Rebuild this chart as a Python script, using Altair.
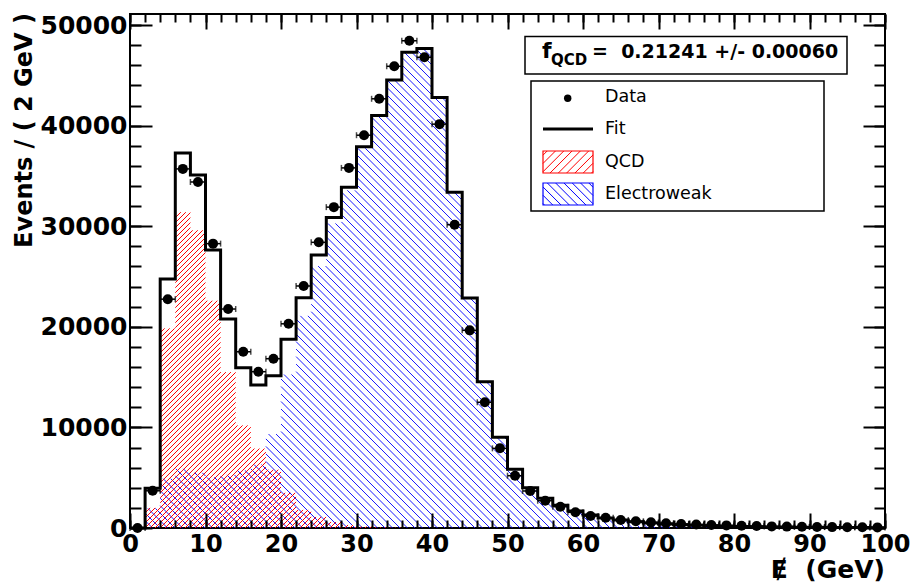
import altair as alt
import numpy as np
import pandas as pd

# ---------------- values ----------------
bin_edges = list(range(0, 102, 2))          # 2 GeV bins, 0..100
bin_centers = list(range(1, 100, 2))

data_counts = [0, 3700, 22750, 35700, 34400, 28270, 21770, 17520, 15540, 16830,
               20300, 24060, 28400, 31900, 35800, 39050, 42670, 45900, 48440, 46800,
               40150, 30150, 19650, 12500, 7920, 5200, 3680, 2710, 2120, 1560,
               1190, 1020, 800, 670, 560, 480, 400, 350, 300, 260,
               220, 190, 160, 140, 120, 100, 90, 80, 70, 60]

fit_counts = [0, 3950, 24750, 37280, 35090, 27630, 20780, 15930, 14210, 15140,
              18760, 22890, 27140, 30880, 33870, 37900, 41020, 44530, 47290, 47660,
              42810, 33370, 22860, 14540, 9010, 5840, 4010, 2950, 2250, 1700,
              1300, 1000, 790, 630, 500, 400, 330, 270, 220, 180,
              150, 125, 105, 90, 75, 65, 55, 45, 40, 35]

qcd_counts = [0, 2000, 19850, 31400, 29600, 22600, 15500, 10200, 7900, 5800,
              3500, 1800, 1100, 600, 300, 150, 80, 40, 20, 0,
              0, 0, 0, 0, 0, 0, 0, 0, 0, 0,
              0, 0, 0, 0, 0, 0, 0, 0, 0, 0,
              0, 0, 0, 0, 0, 0, 0, 0, 0, 0]

ewk_counts = [0, 1950, 4900, 5880, 5490, 5030, 5280, 5730, 6310, 9340,
              15260, 21090, 26040, 30280, 33570, 37750, 40940, 44490, 47270, 47660,
              42810, 33370, 22860, 14540, 9010, 5840, 4010, 2950, 2250, 1700,
              1300, 1000, 790, 630, 500, 400, 330, 270, 220, 180,
              150, 125, 105, 90, 75, 65, 55, 45, 40, 35]

x_major = [0, 10, 20, 30, 40, 50, 60, 70, 80, 90, 100]
x_minor = list(range(0, 101, 2))
y_major = [0, 10000, 20000, 30000, 40000, 50000]
y_minor = list(range(0, 51001, 2000))

y_title = "Events / ( 2 GeV )"
x_title = "\u0246\u00a0\u00a0(GeV)"
fqcd_value = "=\u00a0\u00a00.21241 +/- 0.00060"
legend_labels = ["Data", "Fit", "QCD", "Electroweak"]

# ---------------- layout ----------------
W, H = 755, 514
X_MAX, Y_MAX = 100, 51100
FONT = "DejaVu Sans"
sx = W / X_MAX
sy = H / Y_MAX

xs = alt.Scale(domain=[0, X_MAX], nice=False, zero=False)
ys = alt.Scale(domain=[0, Y_MAX], nice=False, zero=False)


def hatch_df(heights, rising, spacing):
    """45-degree hatch lines clipped to a step histogram, returned in data units."""
    x0 = np.array(bin_edges[:-1]) * sx
    x1 = np.array(bin_edges[1:]) * sx
    h = np.array(heights, dtype=float) * sy
    hmax = h.max()
    if rising:
        cs = np.arange(-W - spacing, hmax + spacing, spacing)
    else:
        cs = np.arange(0, W + hmax + spacing, spacing)
    recs = []
    for c in cs:
        cur = None
        segs = []
        for a, b, hh in zip(x0, x1, h):
            if rising:
                lo, hi = max(a, -c), min(b, hh - c)
            else:
                lo, hi = max(a, c - hh), min(b, c)
            if hi - lo > 0.3:
                if cur is not None and abs(lo - cur[1]) < 1e-6:
                    cur[1] = hi
                else:
                    if cur is not None:
                        segs.append(cur)
                    cur = [lo, hi]
        if cur is not None:
            segs.append(cur)
        for lo, hi in segs:
            if rising:
                ylo, yhi = lo + c, hi + c
            else:
                ylo, yhi = c - lo, c - hi
            recs.append({"x": lo / sx, "x2": hi / sx, "y": ylo / sy, "y2": yhi / sy})
    return pd.DataFrame(recs)


def legend_hatch(xa, xb, ya, yb, rising, spacing):
    """hatch lines inside a legend box, screen pixels (y down)."""
    recs = []
    if rising:   # y = c - x
        for c in np.arange(xa + ya + spacing / 2, xb + yb, spacing):
            lo, hi = max(xa, c - yb), min(xb, c - ya)
            if hi - lo > 0.5:
                recs.append({"x": lo, "x2": hi, "y": c - lo, "y2": c - hi})
    else:        # y = x + k
        for k in np.arange(ya - xb + spacing / 2, yb - xa, spacing):
            lo, hi = max(xa, ya - k), min(xb, yb - k)
            if hi - lo > 0.5:
                recs.append({"x": lo, "x2": hi, "y": lo + k, "y2": hi + k})
    return pd.DataFrame(recs)


# ---------------- tables ----------------
qcd_h = hatch_df(qcd_counts, True, 5.0)
ewk_h = hatch_df(ewk_counts, False, 7.5)

fit_df = pd.DataFrame({"x": bin_edges, "y": fit_counts + [fit_counts[-1]]})
pts = pd.DataFrame({"x": bin_centers, "y": data_counts})
pts["lo"] = pts["x"] - 1
pts["hi"] = pts["x"] + 1
caps = pd.concat([pts[["lo", "y"]].rename(columns={"lo": "x"}),
                  pts[["hi", "y"]].rename(columns={"hi": "x"})])
one = pd.DataFrame({"a": [0]})

# ---------------- axes (ROOT-style inward ticks on all four sides) ----------------
common = dict(domain=False, grid=False, tickColor="black", tickWidth=2, title=None, zindex=1)
lab = dict(labelFont=FONT, labelFontWeight="bold", labelColor="black",
           labelFlush=False, labelOverlap=False, format="d")

ax_b_major = alt.Axis(orient="bottom", values=x_major, offset=-15, tickSize=15,
                      labelFontSize=24, labelPadding=4, **lab, **common)
ax_b_minor = alt.Axis(orient="bottom", values=x_minor, offset=-8, tickSize=8, labels=False, **common)
ax_t_major = alt.Axis(orient="top", values=x_major, offset=-15, tickSize=15, labels=False, **common)
ax_t_minor = alt.Axis(orient="top", values=x_minor, offset=-8, tickSize=8, labels=False, **common)
ax_l_major = alt.Axis(orient="left", values=y_major, offset=-22, tickSize=22,
                      labelFontSize=25, labelPadding=3, **lab, **common)
ax_l_minor = alt.Axis(orient="left", values=y_minor, offset=-11, tickSize=11, labels=False, **common)
ax_r_major = alt.Axis(orient="right", values=y_major, offset=-22, tickSize=22, labels=False, **common)
ax_r_minor = alt.Axis(orient="right", values=y_minor, offset=-11, tickSize=11, labels=False, **common)


def axis_layer(axx, axy):
    return alt.Chart(pts).mark_point(opacity=0).encode(
        x=alt.X("x:Q", scale=xs, axis=axx),
        y=alt.Y("y:Q", scale=ys, axis=axy),
    )


axes_layers = [axis_layer(ax_b_major, ax_l_major), axis_layer(ax_b_minor, ax_l_minor),
               axis_layer(ax_t_major, ax_r_major), axis_layer(ax_t_minor, ax_r_minor)]

# ---------------- histogram layers ----------------
qcd_layer = alt.Chart(qcd_h).mark_rule(color="#ff0000", strokeWidth=1).encode(
    x=alt.X("x:Q", scale=xs, axis=None), x2="x2",
    y=alt.Y("y:Q", scale=ys, axis=None), y2="y2")
ewk_layer = alt.Chart(ewk_h).mark_rule(color="#0000ff", strokeWidth=0.9).encode(
    x=alt.X("x:Q", scale=xs, axis=None), x2="x2",
    y=alt.Y("y:Q", scale=ys, axis=None), y2="y2")

fit_layer = alt.Chart(fit_df).mark_line(interpolate="step-after", color="black", strokeWidth=3).encode(
    x=alt.X("x:Q", scale=xs, axis=None), y=alt.Y("y:Q", scale=ys, axis=None))

err_layer = alt.Chart(pts).mark_rule(color="black", strokeWidth=1.5).encode(
    x=alt.X("lo:Q", scale=xs, axis=None), x2="hi",
    y=alt.Y("y:Q", scale=ys, axis=None))
cap_layer = alt.Chart(caps).mark_tick(color="black", orient="vertical", size=6, thickness=1.5).encode(
    x=alt.X("x:Q", scale=xs, axis=None), y=alt.Y("y:Q", scale=ys, axis=None))
pt_layer = alt.Chart(pts).mark_circle(color="black", opacity=1, size=100).encode(
    x=alt.X("x:Q", scale=xs, axis=None), y=alt.Y("y:Q", scale=ys, axis=None))

# ---------------- annotation boxes ----------------
def box(x1, x2, y1, y2, stroke="black", sw=1.5, fill="white"):
    return alt.Chart(one).mark_rect(fill=fill, stroke=stroke, strokeWidth=sw).encode(
        x=alt.value(x1), x2=alt.value(x2), y=alt.value(y1), y2=alt.value(y2))


def text(s, x, y, size, bold=False, align="left", baseline="middle", angle=0):
    kw = dict(text=s, font=FONT, fontSize=size, align=align, baseline=baseline,
              color="black", fontWeight="bold" if bold else "normal")
    if angle:
        kw["angle"] = angle
    return alt.Chart(one).mark_text(**kw).encode(x=alt.value(x), y=alt.value(y))


fbox = box(395, 717, 22.5, 60)
f_txt = text("f", 412, 43.5, 22, bold=True, baseline="alphabetic")
f_sub = text("QCD", 421, 51, 15, bold=True, baseline="alphabetic")
f_val = text(fqcd_value, 462, 43.5, 19, bold=True, baseline="alphabetic")

lbox = box(401, 694, 67, 197)
leg_dot = alt.Chart(one).mark_circle(color="black", opacity=1, size=55).encode(
    x=alt.value(437.7), y=alt.value(84.3))
leg_fit = alt.Chart(one).mark_rule(color="black", strokeWidth=3).encode(
    x=alt.value(413), x2=alt.value(463), y=alt.value(115))
leg_qcd_box = box(413, 463, 137, 159, stroke="#ff0000", sw=1.2, fill="transparent")
leg_ewk_box = box(413, 463, 169, 191, stroke="#0000ff", sw=1.2, fill="transparent")
lq = legend_hatch(413, 463, 137, 159, True, 8.3)
le = legend_hatch(413, 463, 169, 191, False, 8.3)
leg_qcd_h = alt.Chart(lq).mark_rule(color="#ff0000", strokeWidth=1).encode(
    x=alt.X("x:Q", scale=None, axis=None), x2="x2",
    y=alt.Y("y:Q", scale=None, axis=None), y2="y2")
leg_ewk_h = alt.Chart(le).mark_rule(color="#0000ff", strokeWidth=1).encode(
    x=alt.X("x:Q", scale=None, axis=None), x2="x2",
    y=alt.Y("y:Q", scale=None, axis=None), y2="y2")
leg_txt = [text(legend_labels[0], 475, 83, 17.5),
           text(legend_labels[1], 475, 114.5, 17.5),
           text(legend_labels[2], 475, 148, 17.5),
           text(legend_labels[3], 475, 180, 17.5)]

ytitle = text(y_title, -98, -1, 24, bold=True, align="right", baseline="alphabetic", angle=270)
xtitle = text(x_title, 755, 564, 25, bold=True, align="right", baseline="alphabetic")

chart = alt.layer(
    *axes_layers,
    ewk_layer, qcd_layer, fit_layer, err_layer, cap_layer, pt_layer,
    fbox, f_txt, f_sub, f_val,
    lbox, leg_qcd_h, leg_ewk_h, leg_qcd_box, leg_ewk_box, leg_dot, leg_fit, *leg_txt,
    ytitle, xtitle,
).resolve_axis(x="independent", y="independent").properties(
    width=W, height=H,
    autosize=alt.AutoSizeParams(type="none"),
    padding={"left": 130, "top": 14, "right": 27, "bottom": 58},
    background="white",
).configure_view(stroke="black", strokeWidth=2)

chart.save("out.html", embed_options={"renderer": "svg", "actions": False})
